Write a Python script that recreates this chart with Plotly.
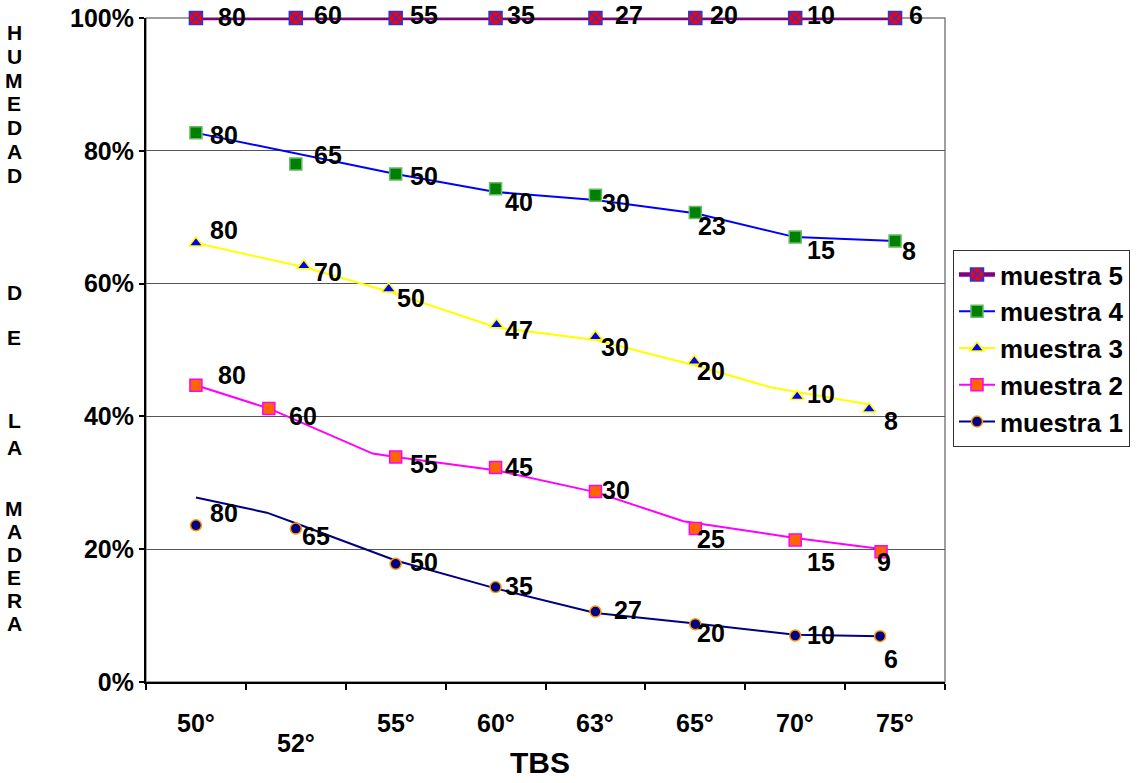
import plotly.graph_objects as go

FONT = "Liberation Sans, Arial, sans-serif"

# Temperatura de bulbo seco (TBS) categories
categories = ["50°", "52°", "55°", "60°", "63°", "65°", "70°", "75°"]
y_ticks = [0, 20, 40, 60, 80, 100]
y_tick_text = ["0%", "20%", "40%", "60%", "80%", "100%"]

# muestra 1
m1_x = [0, 1, 2, 3, 4, 5, 6, 6.85]
m1_y = [23.6, 23.1, 17.8, 14.3, 10.6, 8.7, 7.0, 6.9]
m1_line_x = [0, 0.71, 1.0, 2.0, 3.0, 4.0, 5.0, 6.0, 6.85]
m1_line_y = [27.8, 25.5, 23.9, 18.3, 14.1, 10.4, 8.8, 7.1, 6.9]
m1_labels = [80, 65, 50, 35, 27, 20, 10, 6]

# muestra 2
m2_x = [0, 0.73, 2.0, 3.0, 4.0, 5.0, 6.0, 6.86]
m2_y = [44.7, 41.2, 33.9, 32.3, 28.7, 23.1, 21.4, 19.6]
m2_line_x = [0, 0.73, 1.77, 2.0, 3.0, 4.0, 4.88, 6.0, 6.88]
m2_line_y = [44.7, 41.2, 34.4, 33.9, 31.9, 28.6, 24.2, 21.7, 20.0]
m2_labels = [80, 60, 55, 45, 30, 25, 15, 9]

# muestra 3
m3_x = [0, 1.08, 1.93, 3.01, 4.0, 4.99, 6.02, 6.74]
m3_y = [66.1, 62.7, 59.2, 53.8, 52.0, 48.3, 43.0, 41.1]
m3_line_x = [0, 1.08, 1.93, 3.01, 4.0, 4.99, 5.75, 6.74]
m3_line_y = [66.1, 62.5, 58.8, 53.4, 51.5, 47.7, 44.4, 41.8]
m3_labels = [80, 70, 50, 47, 30, 20, 10, 8]

# muestra 4
m4_x = [0, 1, 2, 3, 4, 5, 6, 7]
m4_y = [82.7, 78.0, 76.5, 74.3, 73.3, 70.7, 67.0, 66.4]
m4_line_x = [0, 2, 3, 4, 5, 6, 7]
m4_line_y = [82.7, 76.5, 73.8, 72.6, 70.6, 67.0, 66.4]
m4_labels = [80, 65, 50, 40, 30, 23, 15, 8]

# muestra 5
m5_x = [0, 1, 2, 3, 4, 5, 6, 7]
m5_y = [100, 100, 100, 100, 100, 100, 100, 100]
m5_labels = [80, 60, 55, 35, 27, 20, 10, 6]

# label offsets in pixels (right, up) from each marker
m1_dx = [12, 4, 12, 7, 17, 0, 10, 2]
m1_dy = [12, -7, 2, 1, 2, -9, 1, -23]
m2_dx = [20, 18, 12, 7, 5, 0, 10, -6]
m2_dy = [10, -8, -7, 1, 1, -10, -22, -10]
m3_dx = [12, 8, 6, 6, 4, 1, 8, 13]
m3_dy = [13, -6, -9, -5, -10, -10, 2, -12]
m4_dx = [12, 16, 12, 7, 5, 1, 10, 5]
m4_dy = [-2, 9, -2, -13, -8, -13, -13, -10]
m5_dx = [20, 16, 12, 9, 18, 13, 10, 12]
m5_dy = [1, 3, 3, 3, 3, 3, 3, 3]

series = [
    dict(name="muestra 1", mx=m1_x, my=m1_y, lx=m1_line_x, ly=m1_line_y,
         labels=m1_labels, dx=m1_dx, dy=m1_dy, color="#000080", width=2,
         symbol="circle", fill="#000080", edge="#FF9900", size=11),
    dict(name="muestra 2", mx=m2_x, my=m2_y, lx=m2_line_x, ly=m2_line_y,
         labels=m2_labels, dx=m2_dx, dy=m2_dy, color="#FF00FF", width=2,
         symbol="square", fill="#FF6600", edge="#FF00FF", size=12),
    dict(name="muestra 3", mx=m3_x, my=m3_y, lx=m3_line_x, ly=m3_line_y,
         labels=m3_labels, dx=m3_dx, dy=m3_dy, color="#FFFF00", width=2,
         symbol="triangle-up", fill="#0000FF", edge="#FFFF00", size=12),
    dict(name="muestra 4", mx=m4_x, my=m4_y, lx=m4_line_x, ly=m4_line_y,
         labels=m4_labels, dx=m4_dx, dy=m4_dy, color="#0000FF", width=2,
         symbol="square", fill="#008000", edge="#66BB66", size=12),
    dict(name="muestra 5", mx=m5_x, my=m5_y, lx=m5_x, ly=m5_y,
         labels=m5_labels, dx=m5_dx, dy=m5_dy, color="#800080", width=4.5,
         symbol="square-x", fill="#FF0000", edge="#3333CC", size=13),
]

fig = go.Figure()

for s in series:
    marker = dict(symbol=s["symbol"], color=s["fill"], size=s["size"],
                  line=dict(color=s["edge"], width=1.5))
    fig.add_trace(go.Scatter(x=s["lx"], y=s["ly"], mode="lines",
                             line=dict(color=s["color"], width=s["width"]),
                             showlegend=False, hoverinfo="skip", cliponaxis=False))
    fig.add_trace(go.Scatter(x=s["mx"], y=s["my"], mode="markers", marker=marker,
                             showlegend=False, cliponaxis=False))
    # legend entry (line + marker)
    fig.add_trace(go.Scatter(x=[None], y=[None], mode="lines+markers",
                             name="<b>%s</b>" % s["name"],
                             line=dict(color=s["color"], width=s["width"]),
                             marker=marker))
    for xv, yv, lab, dx, dy in zip(s["mx"], s["my"], s["labels"], s["dx"], s["dy"]):
        fig.add_annotation(x=xv, y=yv, text="<b>%d</b>" % lab, showarrow=False,
                           xanchor="left", yanchor="middle", xshift=dx, yshift=dy,
                           font=dict(family=FONT, size=25, color="black"))

# category labels under the x axis
for i, cat in enumerate(categories):
    fig.add_annotation(x=i, xref="x", y=-0.062, yref="paper", text="<b>%s</b>" % cat,
                       showarrow=False, xanchor="center", yanchor="middle",
                       yshift=-20 if cat == "52°" else 0,
                       font=dict(family=FONT, size=25, color="black"))

# x axis title
fig.add_annotation(x=0.493, xref="paper", y=(682 - 762) / 664, yref="paper",
                   text="<b>TBS</b>", showarrow=False, xanchor="center",
                   yanchor="middle", borderpad=0,
                   font=dict(family=FONT, size=30, color="black"))

# stacked vertical y axis title
title_letters = ["H", "U", "M", "E", "D", "A", "D", "D", "E", "L", "A",
                 "M", "A", "D", "E", "R", "A"]
letter_rows = [32, 57, 80, 103, 128, 152, 175, 292, 337, 420, 447,
               508, 531, 554, 577, 600, 623]
for ch, row in zip(title_letters, letter_rows):
    fig.add_annotation(x=(14 - 146) / 799, xref="paper", y=(682 - row) / 664,
                       yref="paper", text="<b>%s</b>" % ch, showarrow=False,
                       xanchor="center", yanchor="middle", borderpad=0,
                       font=dict(family=FONT, size=21, color="black"))

# plot-area frame (top/right grey)
fig.add_shape(type="rect", xref="paper", yref="paper", x0=0, x1=1, y0=0, y1=1,
              line=dict(color="#808080", width=1.5), layer="below")

fig.update_layout(
    width=1137, height=783, autosize=False,
    margin=dict(l=146, r=192, t=18, b=101, autoexpand=False),
    plot_bgcolor="white", paper_bgcolor="white",
    font=dict(family=FONT, size=25, color="black"),
    legend=dict(x=(953 - 146) / 799, y=(682 - 250) / 664, xanchor="left",
                yanchor="top", bgcolor="white", bordercolor="#333333",
                borderwidth=1, traceorder="reversed", tracegroupgap=0,
                itemwidth=36,
                font=dict(family=FONT, size=26, color="black")),
    xaxis=dict(range=[-0.5, 7.5], tickmode="linear", tick0=-0.5, dtick=1,
               ticks="outside", ticklen=6, tickwidth=2, tickcolor="black",
               showticklabels=False, showline=True, linecolor="black",
               linewidth=2, showgrid=False, zeroline=False, automargin=False),
    yaxis=dict(range=[0, 100], tickmode="array", tickvals=y_ticks,
               ticktext=["<b>%s</b>" % t for t in y_tick_text],
               ticks="outside", ticklen=5, tickwidth=2, tickcolor="black",
               showline=True, linecolor="black", linewidth=2,
               showgrid=True, gridcolor="#555555", gridwidth=1, zeroline=False,
               automargin=False,
               tickfont=dict(family=FONT, size=25, color="black")),
)

fig.write_html("out.html")
